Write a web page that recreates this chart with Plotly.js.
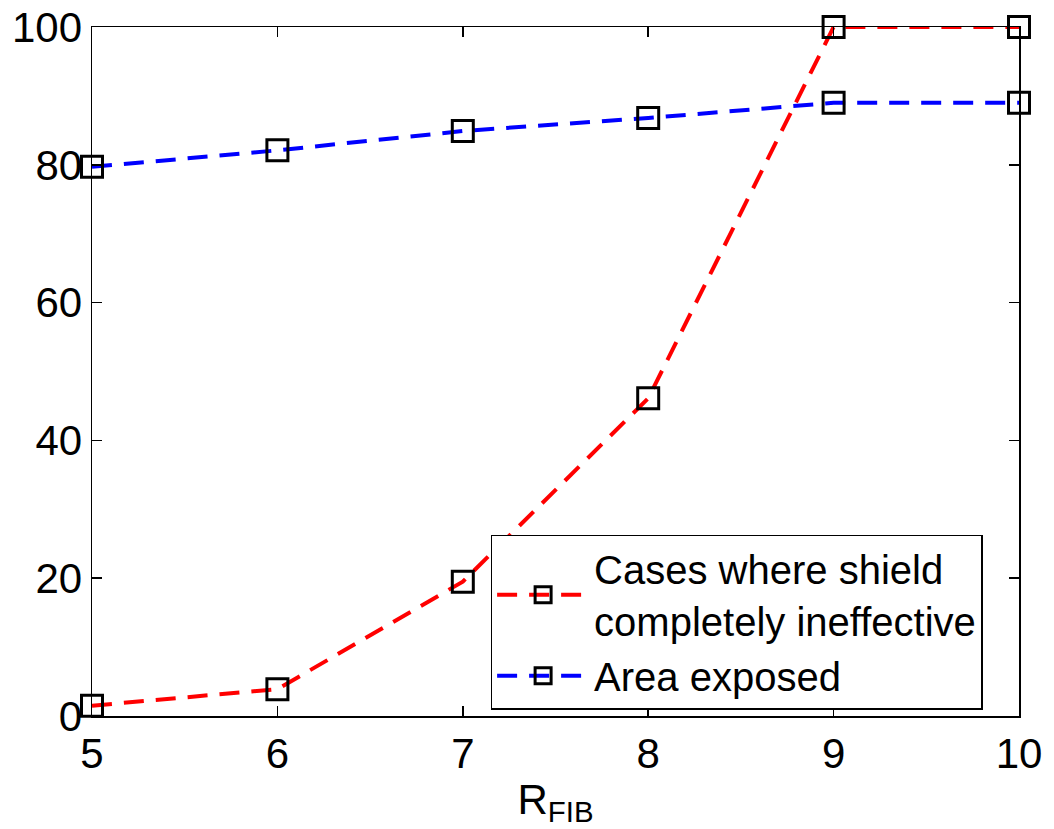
<!DOCTYPE html>
<html>
<head>
<meta charset="utf-8">
<script src="https://cdn.plot.ly/plotly-3.0.1.min.js"></script>
<style>html,body{margin:0;padding:0;background:#fff;}#chart{width:1054px;height:829px;}</style>
</head>
<body>
<div id="chart"></div>
<script>
const rfib = [5, 6, 7, 8, 9, 10];
const casesIneffective = [1.5, 3.9, 19.5, 46.1, 100, 100];
const areaExposed = [79.7, 82.1, 84.9, 86.8, 89.0, 89.0];
const seriesNames = ["Cases where shield<br>completely ineffective", "Area exposed"];
const xTicks = [5, 6, 7, 8, 9, 10];
const yTicks = [0, 20, 40, 60, 80, 100];

const font = {family: "Liberation Sans, Arial, sans-serif", color: "#000"};
const markerStyle = {symbol: "square-open", size: 21, color: "#000", line: {width: 3, color: "#000"}};

const traces = [
  {x: rfib, y: casesIneffective, name: seriesNames[0], type: "scatter", mode: "lines+markers",
   line: {color: "#ff0000", width: 4, dash: "20px,12px"},
   marker: markerStyle, cliponaxis: false},
  {x: rfib, y: areaExposed, name: seriesNames[1], type: "scatter", mode: "lines+markers",
   line: {color: "#0000ff", width: 4, dash: "20px,12px"},
   marker: markerStyle, cliponaxis: false}
];

const axisCommon = {showgrid: false, zeroline: false, showline: true, linecolor: "#000", linewidth: 1.5,
  mirror: "ticks", ticks: "inside", ticklen: 10, tickwidth: 1.5, tickcolor: "#000",
  tickfont: Object.assign({size: 42}, font)};

const layout = {
  width: 1054, height: 829,
  margin: {l: 92, r: 35, t: 27, b: 113},
  paper_bgcolor: "#fff", plot_bgcolor: "#fff",
  font: font,
  showlegend: true,
  xaxis: Object.assign({}, axisCommon, {range: [5, 10], tickvals: xTicks, ticktext: xTicks.map(String),
    title: {text: "R<sub>FIB</sub>", font: Object.assign({size: 42}, font), standoff: 8}}),
  yaxis: Object.assign({}, axisCommon, {range: [0, 100], tickvals: yTicks, ticktext: yTicks.map(String)}),
  legend: {x: 0.43, y: 0.263, xanchor: "left", yanchor: "top", bgcolor: "#fff", bordercolor: "#000",
    borderwidth: 1.5, font: Object.assign({size: 40}, font), itemwidth: 92, tracegroupgap: 0}
};

Plotly.newPlot("chart", traces, layout, {displayModeBar: false, staticPlot: true});
</script>
</body>
</html>
